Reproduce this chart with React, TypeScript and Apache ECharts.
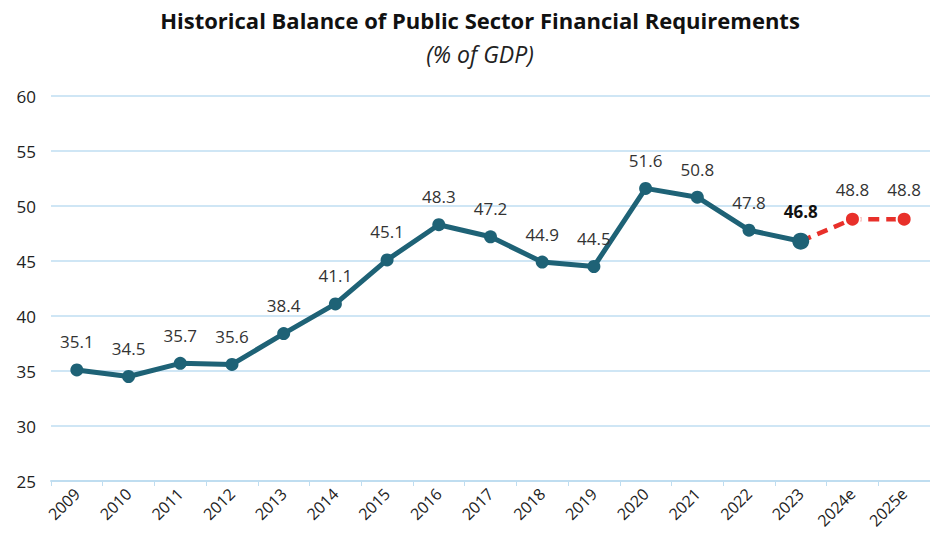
import React, { useEffect, useRef } from "react";
import * as echarts from "echarts";

const categories = ["2009","2010","2011","2012","2013","2014","2015","2016","2017","2018","2019","2020","2021","2022","2023","2024e","2025e"];
const actualValues: (number | null)[] = [35.1,34.5,35.7,35.6,38.4,41.1,45.1,48.3,47.2,44.9,44.5,51.6,50.8,47.8,46.8,null,null];
const forecastValues: (number | null)[] = [null,null,null,null,null,null,null,null,null,null,null,null,null,null,46.8,48.8,48.8];
const yTicks = { min: 25, max: 60, interval: 5 };

const FONT = "'Open Sans', 'Noto Sans', sans-serif";

export default function App() {
  const ref = useRef<HTMLDivElement>(null);
  useEffect(() => {
    document.body.style.margin = "0";
    if (!ref.current) return;
    const chart = echarts.init(ref.current, undefined, { renderer: "svg" });
    const lastIdx = 14;
    chart.setOption({
      animation: false,
      backgroundColor: "#ffffff",
      title: [
        {
          text: "Historical Balance of Public Sector Financial Requirements",
          left: 475, top: 4, textAlign: "center",
          textStyle: { fontFamily: FONT, fontWeight: "bold", fontSize: 22, color: "#111" },
        },
        {
          text: "(% of GDP)",
          left: 475, top: 37, textAlign: "center",
          textStyle: { fontFamily: FONT, fontStyle: "italic", fontWeight: "normal", fontSize: 23, color: "#222" },
        },
      ],
      grid: { left: 51, right: 0, top: 96, bottom: 62, containLabel: false },
      xAxis: {
        type: "category",
        data: categories,
        boundaryGap: true,
        axisLine: { lineStyle: { color: "#BFDDF0", width: 2 } },
        axisTick: { show: true, length: 5, lineStyle: { color: "#BFDDF0" } },
        axisLabel: { rotate: 45, fontFamily: FONT, fontSize: 16, color: "#222", margin: 10, interval: 0 },
      },
      yAxis: {
        type: "value",
        min: yTicks.min, max: yTicks.max, interval: yTicks.interval,
        axisLine: { show: false },
        axisTick: { show: false },
        axisLabel: { fontFamily: FONT, fontSize: 17, color: "#222", margin: 15 },
        splitLine: { lineStyle: { color: "#CFE6F5", width: 2 } },
      },
      series: [
        {
          type: "line",
          data: forecastValues.map((v, i) => ({
            value: v,
            symbolSize: i === lastIdx ? 0 : 15,
            label: { show: i !== lastIdx },
          })),
          lineStyle: { color: "#E8302A", width: 4.5, type: [11, 7] },
          itemStyle: { color: "#E8302A", borderColor: "#ffffff", borderWidth: 2 },
          symbol: "circle",
          label: { position: "top", distance: 13, fontFamily: FONT, fontSize: 17, color: "#333" },
          z: 2,
        },
        {
          type: "line",
          data: actualValues.map((v, i) => ({
            value: v,
            symbolSize: i === lastIdx ? 17 : 13,
            label: i === lastIdx ? { fontWeight: "bold", color: "#111" } : {},
          })),
          lineStyle: { color: "#1E6276", width: 5 },
          itemStyle: { color: "#1E6276" },
          symbol: "circle",
          label: { show: true, position: "top", distance: 13, fontFamily: FONT, fontSize: 17, color: "#333" },
          z: 3,
        },
      ],
    });
    return () => chart.dispose();
  }, []);
  return <div ref={ref} style={{ width: 930, height: 543 }} />;
}
